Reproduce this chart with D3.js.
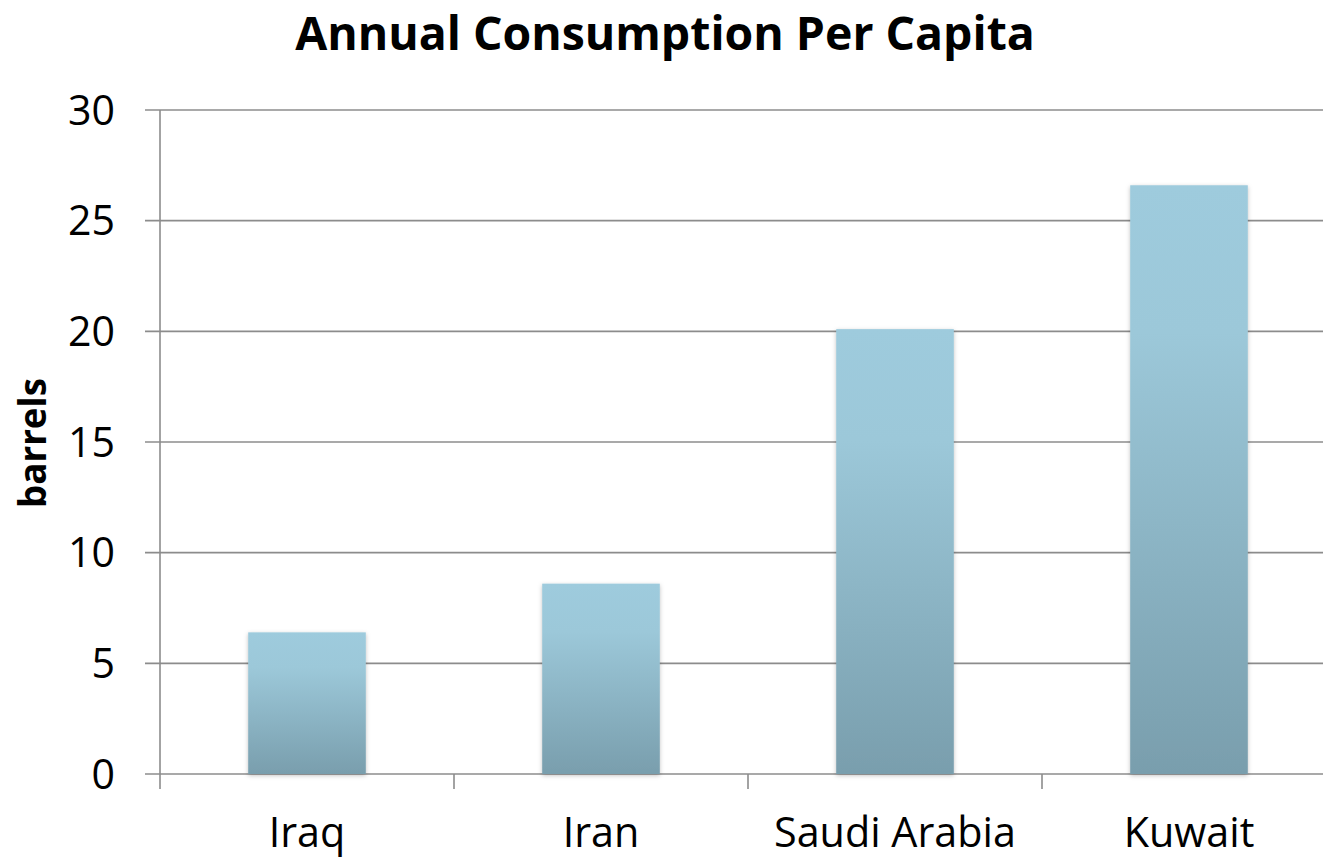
<!DOCTYPE html>
<html>
<head>
<meta charset="utf-8">
<script src="https://cdn.jsdelivr.net/npm/d3@7"></script>
<style>
  html, body { margin: 0; padding: 0; background: #fff; }
  svg { display: block; }
</style>
</head>
<body>
<svg id="chart" width="1323" height="859"></svg>
<script>
const categories = ["Iraq", "Iran", "Saudi Arabia", "Kuwait"];
const values = [6.4, 8.6, 20.1, 26.6];
const yTicks = [0, 5, 10, 15, 20, 25, 30];
const title = "Annual Consumption Per Capita";
const yLabel = "barrels";

const W = 1323, H = 859;
const svg = d3.select("#chart");
const font = "'Open Sans', Lato, sans-serif";

// scale a text's font size so that its rendered width matches a target width
function fitWidth(sel, target) {
  const node = sel.node();
  const fs = parseFloat(sel.attr("font-size"));
  const w = node.getComputedTextLength();
  if (w > 0) sel.attr("font-size", fs * target / w);
  return +sel.attr("font-size");
}

const x = d3.scaleBand().domain(categories).range([160, 1336]).paddingInner(0.6).paddingOuter(0.3);
const y = d3.scaleLinear().domain([0, 30]).range([774, 110]);

const defs = svg.append("defs");
const grad = defs.append("linearGradient").attr("id", "barGrad")
  .attr("x1", 0).attr("y1", 0).attr("x2", 0).attr("y2", 1);
grad.append("stop").attr("offset", "0%").attr("stop-color", "#9ECBDD");
grad.append("stop").attr("offset", "25%").attr("stop-color", "#9CC8D9");
grad.append("stop").attr("offset", "100%").attr("stop-color", "#799EAD");
const filt = defs.append("filter").attr("id", "shadow").attr("x", "-10%").attr("y", "-10%").attr("width", "120%").attr("height", "120%");
filt.append("feDropShadow").attr("dx", 0).attr("dy", 1.5).attr("stdDeviation", 2).attr("flood-color", "#000").attr("flood-opacity", 0.25);

// gridlines
svg.append("g").selectAll("line").data(yTicks).join("line")
  .attr("x1", 145).attr("x2", W)
  .attr("y1", d => y(d)).attr("y2", d => y(d))
  .attr("stroke", "#8c8c8c").attr("stroke-width", 1.6);

// y axis line
svg.append("line").attr("x1", 160).attr("x2", 160).attr("y1", y(30)).attr("y2", y(0))
  .attr("stroke", "#8c8c8c").attr("stroke-width", 1.6);

// x axis ticks at band boundaries
const bounds = categories.map((c, i) => x.range()[0] + i * x.step());
svg.append("g").selectAll("line").data(bounds).join("line")
  .attr("x1", d => d).attr("x2", d => d)
  .attr("y1", y(0)).attr("y2", y(0) + 15)
  .attr("stroke", "#8c8c8c").attr("stroke-width", 1.6);

// bars
svg.append("g").selectAll("rect").data(values).join("rect")
  .attr("x", (d, i) => x(categories[i]))
  .attr("width", x.bandwidth())
  .attr("y", d => y(d))
  .attr("height", d => y(0) - y(d))
  .attr("fill", "url(#barGrad)")
  .attr("filter", "url(#shadow)");

// y tick labels
const yTickG = svg.append("g");
const probeY = yTickG.append("text").attr("font-family", font).attr("font-size", 40).text("30");
const yFs = fitWidth(probeY, 47);
probeY.remove();
yTickG.selectAll("text").data(yTicks).join("text")
  .attr("x", 115).attr("y", d => y(d))
  .attr("dy", "0.36em")
  .attr("text-anchor", "end")
  .attr("font-family", font).attr("font-size", yFs).attr("fill", "#000")
  .text(d => d);

// x labels
const xG = svg.append("g");
const probeX = xG.append("text").attr("font-family", font).attr("font-size", 40).text("Saudi Arabia");
const xFs = fitWidth(probeX, 242);
probeX.remove();
xG.selectAll("text").data(categories).join("text")
  .attr("x", d => x(d) + x.bandwidth() / 2).attr("y", 847)
  .attr("text-anchor", "middle")
  .attr("font-family", font).attr("font-size", xFs).attr("fill", "#000")
  .text(d => d);

// title
const t = svg.append("text").attr("x", 665).attr("y", 50)
  .attr("text-anchor", "middle")
  .attr("font-family", font).attr("font-weight", "bold").attr("font-size", 44).attr("fill", "#000")
  .text(title);
fitWidth(t, 740);

// y label
const yl = svg.append("text")
  .attr("transform", "translate(46,443) rotate(-90)")
  .attr("text-anchor", "middle")
  .attr("font-family", font).attr("font-weight", "bold").attr("font-size", 36).attr("fill", "#000")
  .text(yLabel);
fitWidth(yl, 130);
</script>
</body>
</html>
